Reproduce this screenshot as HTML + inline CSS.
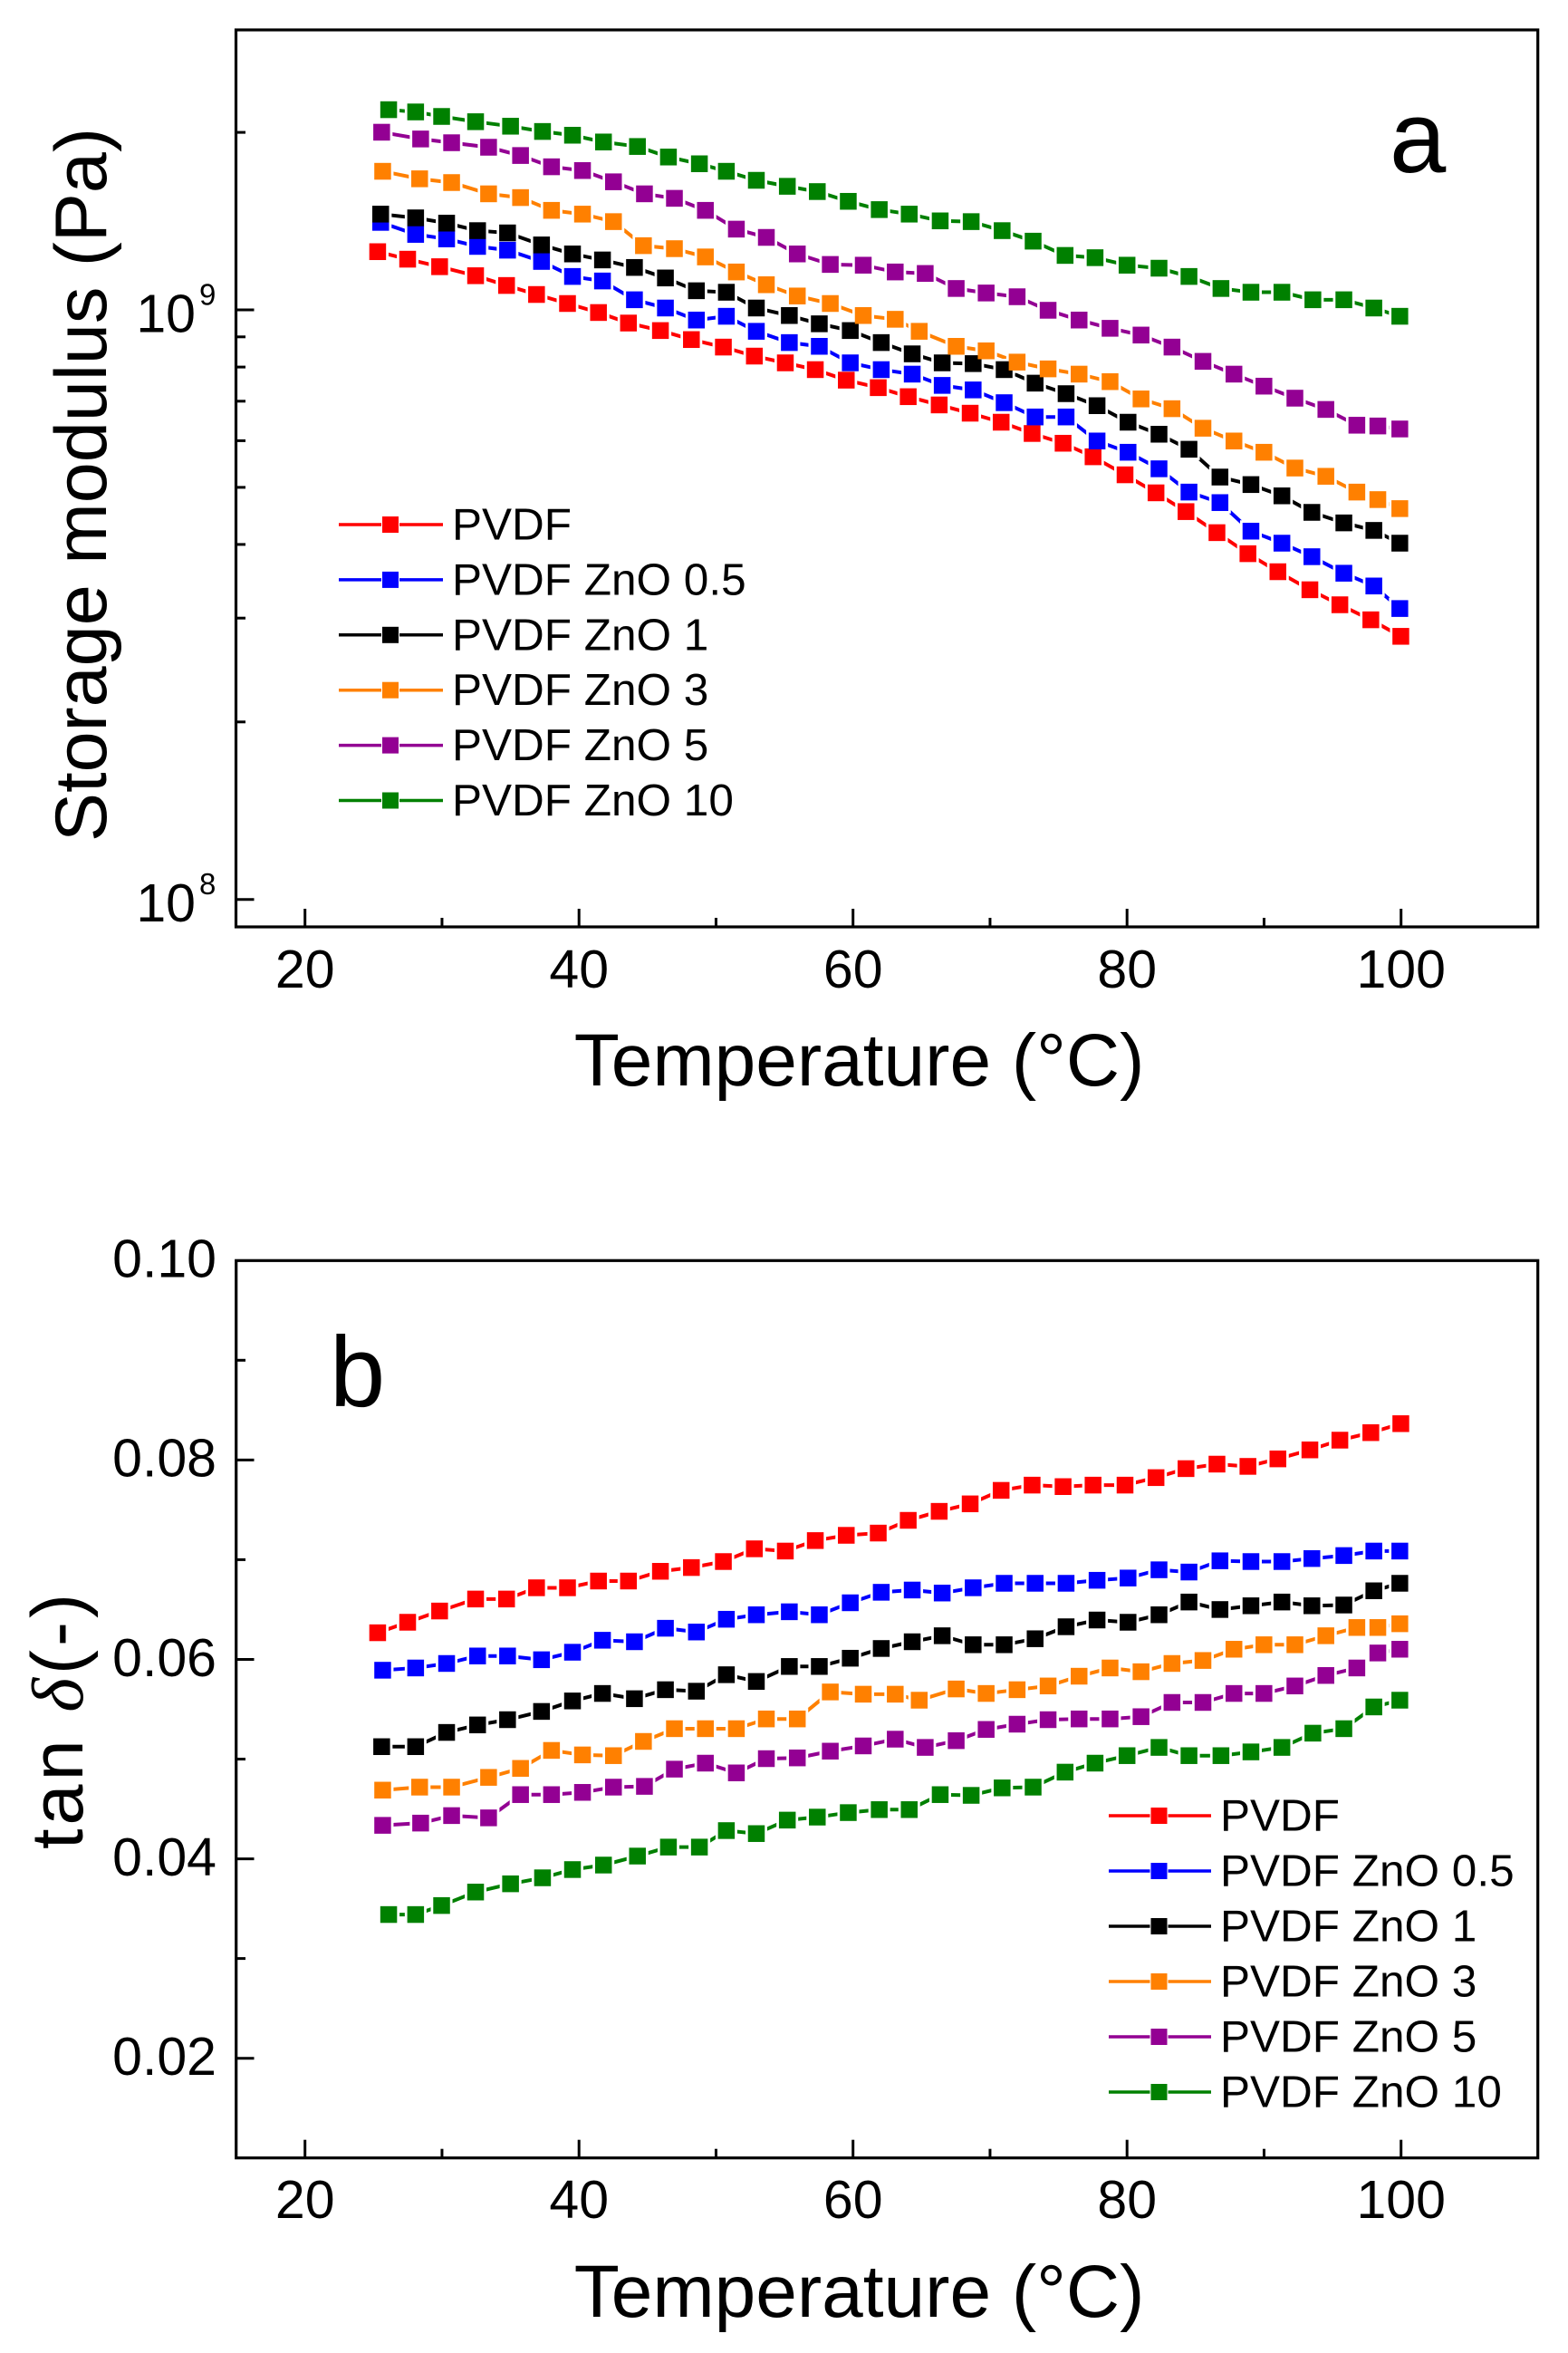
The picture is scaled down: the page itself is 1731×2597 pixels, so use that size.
<!DOCTYPE html>
<html>
<head>
<meta charset="utf-8">
<style>
  html, body { margin: 0; padding: 0; background: #fff; }
  svg { display: block; }
  text { font-family: "Liberation Sans", Arial, sans-serif; fill: #000; }
</style>
</head>
<body>
<svg xmlns="http://www.w3.org/2000/svg" width="1731" height="2597" viewBox="0 0 1731 2597">
  <defs>
    <marker id="mR" markerUnits="userSpaceOnUse" markerWidth="40" markerHeight="40" refX="20" refY="20"><rect x="11.61" y="8.84" width="16.77" height="22.31" fill="#ff0000"/></marker>
    <marker id="mB" markerUnits="userSpaceOnUse" markerWidth="40" markerHeight="40" refX="20" refY="20"><rect x="11.61" y="8.84" width="16.77" height="22.31" fill="#0000ff"/></marker>
    <marker id="mK" markerUnits="userSpaceOnUse" markerWidth="40" markerHeight="40" refX="20" refY="20"><rect x="11.61" y="8.84" width="16.77" height="22.31" fill="#000000"/></marker>
    <marker id="mO" markerUnits="userSpaceOnUse" markerWidth="40" markerHeight="40" refX="20" refY="20"><rect x="11.61" y="8.84" width="16.77" height="22.31" fill="#ff8000"/></marker>
    <marker id="mP" markerUnits="userSpaceOnUse" markerWidth="40" markerHeight="40" refX="20" refY="20"><rect x="11.61" y="8.84" width="16.77" height="22.31" fill="#930093"/></marker>
    <marker id="mG" markerUnits="userSpaceOnUse" markerWidth="40" markerHeight="40" refX="20" refY="20"><rect x="11.61" y="8.84" width="16.77" height="22.31" fill="#008000"/></marker>
    <marker id="mW" markerUnits="userSpaceOnUse" markerWidth="40" markerHeight="40" refX="20" refY="20"><rect x="9.12" y="5.53" width="21.76" height="28.94" fill="#ffffff"/></marker>
  </defs>

  <!-- ================= PANEL A ================= -->
  <g transform="scale(1.10302,0.829187)" fill="none">
    <polyline vector-effect="non-scaling-stroke" stroke="#ff0000" stroke-width="4" points="378,335 408,345 440,355 476,367 507,380 537,392 568,404 599,416 629,430 661,440 692,452 724,462 755,474 786,483 816,492 847,506 879,516 909,528 940,539 971,550 1002,562 1033,577 1064,590 1094,608 1126,632 1157,656 1187,681 1218,709 1249,737 1279,761 1311,785 1341,805 1372,825 1402,847"/>
    <polyline vector-effect="non-scaling-stroke" stroke="#0000ff" stroke-width="4" points="381,296 416,312 447,318 478,328 508,333 542,348 573,368 603,374 635,399 666,410 697,426 727,421 757,441 790,456 820,461 851,483 882,492 913,498 943,513 974,519 1005,536 1036,555 1067,555 1098,587 1129,602 1160,624 1190,655 1221,669 1252,707 1283,723 1313,741 1345,763 1375,780 1401,810"/>
    <polyline vector-effect="non-scaling-stroke" stroke="#000000" stroke-width="4" points="381,285 416,290 447,297 478,307 508,310 542,326 573,338 603,346 635,356 666,370 697,387 727,389 757,410 790,420 820,431 851,440 882,456 913,471 943,483 974,484 1005,492 1036,510 1067,524 1098,540 1129,562 1160,578 1190,598 1221,635 1252,645 1283,660 1313,682 1345,696 1375,706 1401,723"/>
    <polyline vector-effect="non-scaling-stroke" stroke="#ff8000" stroke-width="4" points="383,228 420,238 452,243 489,258 521,263 552,280 583,285 614,295 644,327 675,331 706,342 737,362 767,379 798,394 831,404 864,420 896,425 920,441 957,461 987,467 1018,482 1049,491 1080,498 1111,508 1142,531 1173,544 1204,570 1235,587 1265,602 1296,623 1327,634 1358,655 1379,665 1401,677"/>
    <polyline vector-effect="non-scaling-stroke" stroke="#930093" stroke-width="4" points="382,176 421,185 452,190 489,196 521,207 552,222 583,227 614,242 645,258 675,264 706,280 737,305 767,316 798,338 831,352 864,353 896,362 926,364 957,384 987,390 1018,395 1049,413 1080,426 1111,437 1142,446 1173,462 1204,481 1235,498 1265,514 1296,530 1327,545 1358,566 1379,567 1401,571"/>
    <polyline vector-effect="non-scaling-stroke" stroke="#008000" stroke-width="4" points="389,146 416,149 442,155 476,162 511,168 543,175 573,180 604,189 638,195 669,209 700,218 727,228 757,240 788,248 818,255 849,268 880,279 910,285 941,294 972,295 1003,307 1034,321 1066,340 1096,343 1128,353 1160,357 1190,368 1222,384 1252,389 1283,389 1314,399 1345,399 1375,410 1401,421"/>
  </g>

  <g transform="scale(1.10302,0.829187)" fill="none" stroke="none">
    <g marker-start="url(#mW)" marker-mid="url(#mW)" marker-end="url(#mW)">
      <polyline points="378,335 408,345 440,355 476,367 507,380 537,392 568,404 599,416 629,430 661,440 692,452 724,462 755,474 786,483 816,492 847,506 879,516 909,528 940,539 971,550 1002,562 1033,577 1064,590 1094,608 1126,632 1157,656 1187,681 1218,709 1249,737 1279,761 1311,785 1341,805 1372,825 1402,847"/>
      <polyline points="381,296 416,312 447,318 478,328 508,333 542,348 573,368 603,374 635,399 666,410 697,426 727,421 757,441 790,456 820,461 851,483 882,492 913,498 943,513 974,519 1005,536 1036,555 1067,555 1098,587 1129,602 1160,624 1190,655 1221,669 1252,707 1283,723 1313,741 1345,763 1375,780 1401,810"/>
      <polyline points="381,285 416,290 447,297 478,307 508,310 542,326 573,338 603,346 635,356 666,370 697,387 727,389 757,410 790,420 820,431 851,440 882,456 913,471 943,483 974,484 1005,492 1036,510 1067,524 1098,540 1129,562 1160,578 1190,598 1221,635 1252,645 1283,660 1313,682 1345,696 1375,706 1401,723"/>
      <polyline points="383,228 420,238 452,243 489,258 521,263 552,280 583,285 614,295 644,327 675,331 706,342 737,362 767,379 798,394 831,404 864,420 896,425 920,441 957,461 987,467 1018,482 1049,491 1080,498 1111,508 1142,531 1173,544 1204,570 1235,587 1265,602 1296,623 1327,634 1358,655 1379,665 1401,677"/>
      <polyline points="382,176 421,185 452,190 489,196 521,207 552,222 583,227 614,242 645,258 675,264 706,280 737,305 767,316 798,338 831,352 864,353 896,362 926,364 957,384 987,390 1018,395 1049,413 1080,426 1111,437 1142,446 1173,462 1204,481 1235,498 1265,514 1296,530 1327,545 1358,566 1379,567 1401,571"/>
      <polyline points="389,146 416,149 442,155 476,162 511,168 543,175 573,180 604,189 638,195 669,209 700,218 727,228 757,240 788,248 818,255 849,268 880,279 910,285 941,294 972,295 1003,307 1034,321 1066,340 1096,343 1128,353 1160,357 1190,368 1222,384 1252,389 1283,389 1314,399 1345,399 1375,410 1401,421"/>
    </g>
    <polyline marker-start="url(#mR)" marker-mid="url(#mR)" marker-end="url(#mR)" points="378,335 408,345 440,355 476,367 507,380 537,392 568,404 599,416 629,430 661,440 692,452 724,462 755,474 786,483 816,492 847,506 879,516 909,528 940,539 971,550 1002,562 1033,577 1064,590 1094,608 1126,632 1157,656 1187,681 1218,709 1249,737 1279,761 1311,785 1341,805 1372,825 1402,847"/>
    <polyline marker-start="url(#mB)" marker-mid="url(#mB)" marker-end="url(#mB)" points="381,296 416,312 447,318 478,328 508,333 542,348 573,368 603,374 635,399 666,410 697,426 727,421 757,441 790,456 820,461 851,483 882,492 913,498 943,513 974,519 1005,536 1036,555 1067,555 1098,587 1129,602 1160,624 1190,655 1221,669 1252,707 1283,723 1313,741 1345,763 1375,780 1401,810"/>
    <polyline marker-start="url(#mK)" marker-mid="url(#mK)" marker-end="url(#mK)" points="381,285 416,290 447,297 478,307 508,310 542,326 573,338 603,346 635,356 666,370 697,387 727,389 757,410 790,420 820,431 851,440 882,456 913,471 943,483 974,484 1005,492 1036,510 1067,524 1098,540 1129,562 1160,578 1190,598 1221,635 1252,645 1283,660 1313,682 1345,696 1375,706 1401,723"/>
    <polyline marker-start="url(#mO)" marker-mid="url(#mO)" marker-end="url(#mO)" points="383,228 420,238 452,243 489,258 521,263 552,280 583,285 614,295 644,327 675,331 706,342 737,362 767,379 798,394 831,404 864,420 896,425 920,441 957,461 987,467 1018,482 1049,491 1080,498 1111,508 1142,531 1173,544 1204,570 1235,587 1265,602 1296,623 1327,634 1358,655 1379,665 1401,677"/>
    <polyline marker-start="url(#mP)" marker-mid="url(#mP)" marker-end="url(#mP)" points="382,176 421,185 452,190 489,196 521,207 552,222 583,227 614,242 645,258 675,264 706,280 737,305 767,316 798,338 831,352 864,353 896,362 926,364 957,384 987,390 1018,395 1049,413 1080,426 1111,437 1142,446 1173,462 1204,481 1235,498 1265,514 1296,530 1327,545 1358,566 1379,567 1401,571"/>
    <polyline marker-start="url(#mG)" marker-mid="url(#mG)" marker-end="url(#mG)" points="389,146 416,149 442,155 476,162 511,168 543,175 573,180 604,189 638,195 669,209 700,218 727,228 757,240 788,248 818,255 849,268 880,279 910,285 941,294 972,295 1003,307 1034,321 1066,340 1096,343 1128,353 1160,357 1190,368 1222,384 1252,389 1283,389 1314,399 1345,399 1375,410 1401,421"/>
  </g>

  <!-- Panel A frame & ticks -->
  <rect x="260.5" y="33" width="1437.2" height="990" fill="none" stroke="#000" stroke-width="3.2"/>
  <g stroke="#000" stroke-width="3">
    <line x1="336.7" y1="1023" x2="336.7" y2="1003"/>
    <line x1="487.95" y1="1023" x2="487.95" y2="1013"/>
    <line x1="639.2" y1="1023" x2="639.2" y2="1003"/>
    <line x1="790.45" y1="1023" x2="790.45" y2="1013"/>
    <line x1="941.7" y1="1023" x2="941.7" y2="1003"/>
    <line x1="1092.95" y1="1023" x2="1092.95" y2="1013"/>
    <line x1="1244.2" y1="1023" x2="1244.2" y2="1003"/>
    <line x1="1395.45" y1="1023" x2="1395.45" y2="1013"/>
    <line x1="1546.7" y1="1023" x2="1546.7" y2="1003"/>
    <line x1="260.5" y1="992.7" x2="280.5" y2="992.7"/>
    <line x1="260.5" y1="342" x2="280.5" y2="342"/>
    <line x1="260.5" y1="796.8" x2="271" y2="796.8"/>
    <line x1="260.5" y1="682.2" x2="271" y2="682.2"/>
    <line x1="260.5" y1="600.9" x2="271" y2="600.9"/>
    <line x1="260.5" y1="537.9" x2="271" y2="537.9"/>
    <line x1="260.5" y1="486.4" x2="271" y2="486.4"/>
    <line x1="260.5" y1="442.8" x2="271" y2="442.8"/>
    <line x1="260.5" y1="405.1" x2="271" y2="405.1"/>
    <line x1="260.5" y1="371.8" x2="271" y2="371.8"/>
    <line x1="260.5" y1="146.1" x2="271" y2="146.1"/>
  </g>
  <g font-size="59" text-anchor="middle">
    <text x="336.7" y="1090">20</text>
    <text x="639.2" y="1090">40</text>
    <text x="941.7" y="1090">60</text>
    <text x="1244.2" y="1090">80</text>
    <text x="1546.7" y="1090">100</text>
  </g>
  <text x="216" y="1017" font-size="59" text-anchor="end">10</text>
  <text x="220" y="987" font-size="33">8</text>
  <text x="216" y="366.3" font-size="59" text-anchor="end">10</text>
  <text x="220" y="336.3" font-size="33">9</text>
  <text x="948.6" y="1198" font-size="82" text-anchor="middle">Temperature (°C)</text>
  <text transform="translate(117,535) rotate(-90)" font-size="81" text-anchor="middle">Storage modulus (Pa)</text>
  <text x="1534" y="190" font-size="112">a</text>

  <!-- Panel A legend -->
  <g stroke-width="3.5">
    <line x1="374" y1="579" x2="421" y2="579" stroke="#ff0000"/><line x1="441" y1="579" x2="489" y2="579" stroke="#ff0000"/>
    <line x1="374" y1="639.9" x2="421" y2="639.9" stroke="#0000ff"/><line x1="441" y1="639.9" x2="489" y2="639.9" stroke="#0000ff"/>
    <line x1="374" y1="700.8" x2="421" y2="700.8" stroke="#000"/><line x1="441" y1="700.8" x2="489" y2="700.8" stroke="#000"/>
    <line x1="374" y1="761.7" x2="421" y2="761.7" stroke="#ff8000"/><line x1="441" y1="761.7" x2="489" y2="761.7" stroke="#ff8000"/>
    <line x1="374" y1="822.6" x2="421" y2="822.6" stroke="#930093"/><line x1="441" y1="822.6" x2="489" y2="822.6" stroke="#930093"/>
    <line x1="374" y1="883.5" x2="421" y2="883.5" stroke="#008000"/><line x1="441" y1="883.5" x2="489" y2="883.5" stroke="#008000"/>
  </g>
  <rect x="422" y="570" width="18" height="18" fill="#ff0000"/>
  <rect x="422" y="630.9" width="18" height="18" fill="#0000ff"/>
  <rect x="422" y="691.8" width="18" height="18" fill="#000"/>
  <rect x="422" y="752.7" width="18" height="18" fill="#ff8000"/>
  <rect x="422" y="813.6" width="18" height="18" fill="#930093"/>
  <rect x="422" y="874.5" width="18" height="18" fill="#008000"/>
  <g font-size="49.5">
    <text x="499" y="595.5">PVDF</text>
    <text x="499" y="656.4">PVDF ZnO 0.5</text>
    <text x="499" y="717.3">PVDF ZnO 1</text>
    <text x="499" y="778.2">PVDF ZnO 3</text>
    <text x="499" y="839.1">PVDF ZnO 5</text>
    <text x="499" y="900">PVDF ZnO 10</text>
  </g>

  <!-- ================= PANEL B ================= -->
  <g transform="translate(0,1300) scale(1.10302,0.82713)" fill="none">
    <polyline vector-effect="non-scaling-stroke" stroke="#ff0000" stroke-width="4" points="378,607 408,593 440,578 476,562 507,562 537,547 568,547 599,538 629,538 661,525 692,520 724,512 755,495 786,498 816,484 847,477 879,474 909,457 940,445 971,435 1002,417 1033,410 1064,412 1094,410 1126,410 1157,400 1187,388 1218,382 1249,385 1279,375 1311,363 1341,350 1372,340 1402,328"/>
    <polyline vector-effect="non-scaling-stroke" stroke="#0000ff" stroke-width="4" points="383,657 416,654 447,648 478,638 508,638 542,643 573,633 603,617 635,619 666,601 697,606 727,589 757,583 790,579 820,583 851,567 882,553 913,550 943,554 974,547 1005,541 1036,541 1067,541 1098,537 1129,534 1160,523 1190,526 1221,511 1252,512 1283,512 1313,508 1345,504 1375,498 1401,498"/>
    <polyline vector-effect="non-scaling-stroke" stroke="#000000" stroke-width="4" points="382,759 416,759 447,740 478,730 508,723 542,712 573,698 603,688 635,695 666,683 697,685 727,663 757,672 790,652 820,652 851,641 882,628 913,619 943,611 974,623 1005,623 1036,615 1067,599 1098,590 1129,593 1160,583 1190,566 1221,576 1252,571 1283,566 1313,571 1345,570 1375,551 1401,541"/>
    <polyline vector-effect="non-scaling-stroke" stroke="#ff8000" stroke-width="4" points="383,817 420,813 452,813 489,800 521,788 552,764 583,770 614,771 644,752 675,735 706,735 737,735 767,722 798,722 831,686 864,689 896,689 920,697 957,682 987,688 1018,683 1049,678 1080,665 1111,654 1142,659 1173,648 1204,644 1235,629 1265,623 1296,623 1327,611 1358,600 1379,600 1401,595"/>
    <polyline vector-effect="non-scaling-stroke" stroke="#930093" stroke-width="4" points="383,864 421,861 452,851 489,854 521,823 552,823 583,820 614,813 645,812 675,789 706,781 737,794 767,775 798,774 831,765 864,758 896,749 926,760 957,751 987,736 1018,729 1049,723 1080,722 1111,722 1142,719 1173,700 1204,700 1235,688 1265,688 1296,678 1327,664 1358,654 1379,634 1401,629"/>
    <polyline vector-effect="non-scaling-stroke" stroke="#008000" stroke-width="4" points="389,983 416,983 442,971 476,953 511,942 543,934 573,923 604,917 638,905 669,893 700,893 727,871 757,875 788,857 818,853 849,847 880,843 910,843 941,823 972,824 1003,814 1034,813 1066,793 1096,781 1128,771 1160,760 1190,771 1222,771 1252,766 1283,760 1314,741 1345,735 1375,706 1401,697"/>
  </g>
  <g transform="translate(0,1300) scale(1.10302,0.82713)" fill="none" stroke="none">
    <g marker-start="url(#mW)" marker-mid="url(#mW)" marker-end="url(#mW)">
      <polyline points="378,607 408,593 440,578 476,562 507,562 537,547 568,547 599,538 629,538 661,525 692,520 724,512 755,495 786,498 816,484 847,477 879,474 909,457 940,445 971,435 1002,417 1033,410 1064,412 1094,410 1126,410 1157,400 1187,388 1218,382 1249,385 1279,375 1311,363 1341,350 1372,340 1402,328"/>
      <polyline points="383,657 416,654 447,648 478,638 508,638 542,643 573,633 603,617 635,619 666,601 697,606 727,589 757,583 790,579 820,583 851,567 882,553 913,550 943,554 974,547 1005,541 1036,541 1067,541 1098,537 1129,534 1160,523 1190,526 1221,511 1252,512 1283,512 1313,508 1345,504 1375,498 1401,498"/>
      <polyline points="382,759 416,759 447,740 478,730 508,723 542,712 573,698 603,688 635,695 666,683 697,685 727,663 757,672 790,652 820,652 851,641 882,628 913,619 943,611 974,623 1005,623 1036,615 1067,599 1098,590 1129,593 1160,583 1190,566 1221,576 1252,571 1283,566 1313,571 1345,570 1375,551 1401,541"/>
      <polyline points="383,817 420,813 452,813 489,800 521,788 552,764 583,770 614,771 644,752 675,735 706,735 737,735 767,722 798,722 831,686 864,689 896,689 920,697 957,682 987,688 1018,683 1049,678 1080,665 1111,654 1142,659 1173,648 1204,644 1235,629 1265,623 1296,623 1327,611 1358,600 1379,600 1401,595"/>
      <polyline points="383,864 421,861 452,851 489,854 521,823 552,823 583,820 614,813 645,812 675,789 706,781 737,794 767,775 798,774 831,765 864,758 896,749 926,760 957,751 987,736 1018,729 1049,723 1080,722 1111,722 1142,719 1173,700 1204,700 1235,688 1265,688 1296,678 1327,664 1358,654 1379,634 1401,629"/>
      <polyline points="389,983 416,983 442,971 476,953 511,942 543,934 573,923 604,917 638,905 669,893 700,893 727,871 757,875 788,857 818,853 849,847 880,843 910,843 941,823 972,824 1003,814 1034,813 1066,793 1096,781 1128,771 1160,760 1190,771 1222,771 1252,766 1283,760 1314,741 1345,735 1375,706 1401,697"/>
    </g>
    <polyline marker-start="url(#mR)" marker-mid="url(#mR)" marker-end="url(#mR)" points="378,607 408,593 440,578 476,562 507,562 537,547 568,547 599,538 629,538 661,525 692,520 724,512 755,495 786,498 816,484 847,477 879,474 909,457 940,445 971,435 1002,417 1033,410 1064,412 1094,410 1126,410 1157,400 1187,388 1218,382 1249,385 1279,375 1311,363 1341,350 1372,340 1402,328"/>
    <polyline marker-start="url(#mB)" marker-mid="url(#mB)" marker-end="url(#mB)" points="383,657 416,654 447,648 478,638 508,638 542,643 573,633 603,617 635,619 666,601 697,606 727,589 757,583 790,579 820,583 851,567 882,553 913,550 943,554 974,547 1005,541 1036,541 1067,541 1098,537 1129,534 1160,523 1190,526 1221,511 1252,512 1283,512 1313,508 1345,504 1375,498 1401,498"/>
    <polyline marker-start="url(#mK)" marker-mid="url(#mK)" marker-end="url(#mK)" points="382,759 416,759 447,740 478,730 508,723 542,712 573,698 603,688 635,695 666,683 697,685 727,663 757,672 790,652 820,652 851,641 882,628 913,619 943,611 974,623 1005,623 1036,615 1067,599 1098,590 1129,593 1160,583 1190,566 1221,576 1252,571 1283,566 1313,571 1345,570 1375,551 1401,541"/>
    <polyline marker-start="url(#mO)" marker-mid="url(#mO)" marker-end="url(#mO)" points="383,817 420,813 452,813 489,800 521,788 552,764 583,770 614,771 644,752 675,735 706,735 737,735 767,722 798,722 831,686 864,689 896,689 920,697 957,682 987,688 1018,683 1049,678 1080,665 1111,654 1142,659 1173,648 1204,644 1235,629 1265,623 1296,623 1327,611 1358,600 1379,600 1401,595"/>
    <polyline marker-start="url(#mP)" marker-mid="url(#mP)" marker-end="url(#mP)" points="383,864 421,861 452,851 489,854 521,823 552,823 583,820 614,813 645,812 675,789 706,781 737,794 767,775 798,774 831,765 864,758 896,749 926,760 957,751 987,736 1018,729 1049,723 1080,722 1111,722 1142,719 1173,700 1204,700 1235,688 1265,688 1296,678 1327,664 1358,654 1379,634 1401,629"/>
    <polyline marker-start="url(#mG)" marker-mid="url(#mG)" marker-end="url(#mG)" points="389,983 416,983 442,971 476,953 511,942 543,934 573,923 604,917 638,905 669,893 700,893 727,871 757,875 788,857 818,853 849,847 880,843 910,843 941,823 972,824 1003,814 1034,813 1066,793 1096,781 1128,771 1160,760 1190,771 1222,771 1252,766 1283,760 1314,741 1345,735 1375,706 1401,697"/>
  </g>

  <!-- Panel B frame & ticks -->
  <rect x="260.7" y="1391.3" width="1437" height="990.4" fill="none" stroke="#000" stroke-width="3.2"/>
  <g stroke="#000" stroke-width="3">
    <line x1="336.7" y1="2381.7" x2="336.7" y2="2361.7"/>
    <line x1="487.95" y1="2381.7" x2="487.95" y2="2371.7"/>
    <line x1="639.2" y1="2381.7" x2="639.2" y2="2361.7"/>
    <line x1="790.45" y1="2381.7" x2="790.45" y2="2371.7"/>
    <line x1="941.7" y1="2381.7" x2="941.7" y2="2361.7"/>
    <line x1="1092.95" y1="2381.7" x2="1092.95" y2="2371.7"/>
    <line x1="1244.2" y1="2381.7" x2="1244.2" y2="2361.7"/>
    <line x1="1395.45" y1="2381.7" x2="1395.45" y2="2371.7"/>
    <line x1="1546.7" y1="2381.7" x2="1546.7" y2="2361.7"/>
    <line x1="260.7" y1="1501.3" x2="271" y2="1501.3"/>
    <line x1="260.7" y1="1611.4" x2="280.5" y2="1611.4"/>
    <line x1="260.7" y1="1721.4" x2="271" y2="1721.4"/>
    <line x1="260.7" y1="1831.5" x2="280.5" y2="1831.5"/>
    <line x1="260.7" y1="1941.5" x2="271" y2="1941.5"/>
    <line x1="260.7" y1="2051.6" x2="280.5" y2="2051.6"/>
    <line x1="260.7" y1="2161.6" x2="271" y2="2161.6"/>
    <line x1="260.7" y1="2271.7" x2="280.5" y2="2271.7"/>
  </g>
  <g font-size="59" text-anchor="middle">
    <text x="336.7" y="2448">20</text>
    <text x="639.2" y="2448">40</text>
    <text x="941.7" y="2448">60</text>
    <text x="1244.2" y="2448">80</text>
    <text x="1546.7" y="2448">100</text>
  </g>
  <g font-size="59" text-anchor="end">
    <text x="239" y="1409.6">0.10</text>
    <text x="239" y="1629.7">0.08</text>
    <text x="239" y="1849.8">0.06</text>
    <text x="239" y="2069.9">0.04</text>
    <text x="239" y="2290">0.02</text>
  </g>
  <text x="948.6" y="2557" font-size="82" text-anchor="middle">Temperature (°C)</text>
  <text transform="translate(91,1900) rotate(-90)" font-size="81" text-anchor="middle" textLength="282" lengthAdjust="spacing">tan <tspan font-family="Liberation Serif, serif" font-style="italic">δ</tspan>(-)</text>
  <text x="364" y="1552" font-size="110">b</text>

  <!-- Panel B legend -->
  <g stroke-width="3.5">
    <line x1="1224" y1="2004" x2="1269.5" y2="2004" stroke="#ff0000"/><line x1="1289.5" y1="2004" x2="1337" y2="2004" stroke="#ff0000"/>
    <line x1="1224" y1="2065" x2="1269.5" y2="2065" stroke="#0000ff"/><line x1="1289.5" y1="2065" x2="1337" y2="2065" stroke="#0000ff"/>
    <line x1="1224" y1="2126" x2="1269.5" y2="2126" stroke="#000"/><line x1="1289.5" y1="2126" x2="1337" y2="2126" stroke="#000"/>
    <line x1="1224" y1="2187" x2="1269.5" y2="2187" stroke="#ff8000"/><line x1="1289.5" y1="2187" x2="1337" y2="2187" stroke="#ff8000"/>
    <line x1="1224" y1="2248" x2="1269.5" y2="2248" stroke="#930093"/><line x1="1289.5" y1="2248" x2="1337" y2="2248" stroke="#930093"/>
    <line x1="1224" y1="2309" x2="1269.5" y2="2309" stroke="#008000"/><line x1="1289.5" y1="2309" x2="1337" y2="2309" stroke="#008000"/>
  </g>
  <rect x="1270.5" y="1995" width="18" height="18" fill="#ff0000"/>
  <rect x="1270.5" y="2056" width="18" height="18" fill="#0000ff"/>
  <rect x="1270.5" y="2117" width="18" height="18" fill="#000"/>
  <rect x="1270.5" y="2178" width="18" height="18" fill="#ff8000"/>
  <rect x="1270.5" y="2239" width="18" height="18" fill="#930093"/>
  <rect x="1270.5" y="2300" width="18" height="18" fill="#008000"/>
  <g font-size="49.5">
    <text x="1347" y="2020.5">PVDF</text>
    <text x="1347" y="2081.5">PVDF ZnO 0.5</text>
    <text x="1347" y="2142.5">PVDF ZnO 1</text>
    <text x="1347" y="2203.5">PVDF ZnO 3</text>
    <text x="1347" y="2264.5">PVDF ZnO 5</text>
    <text x="1347" y="2325.5">PVDF ZnO 10</text>
  </g>
</svg>
</body>
</html>
